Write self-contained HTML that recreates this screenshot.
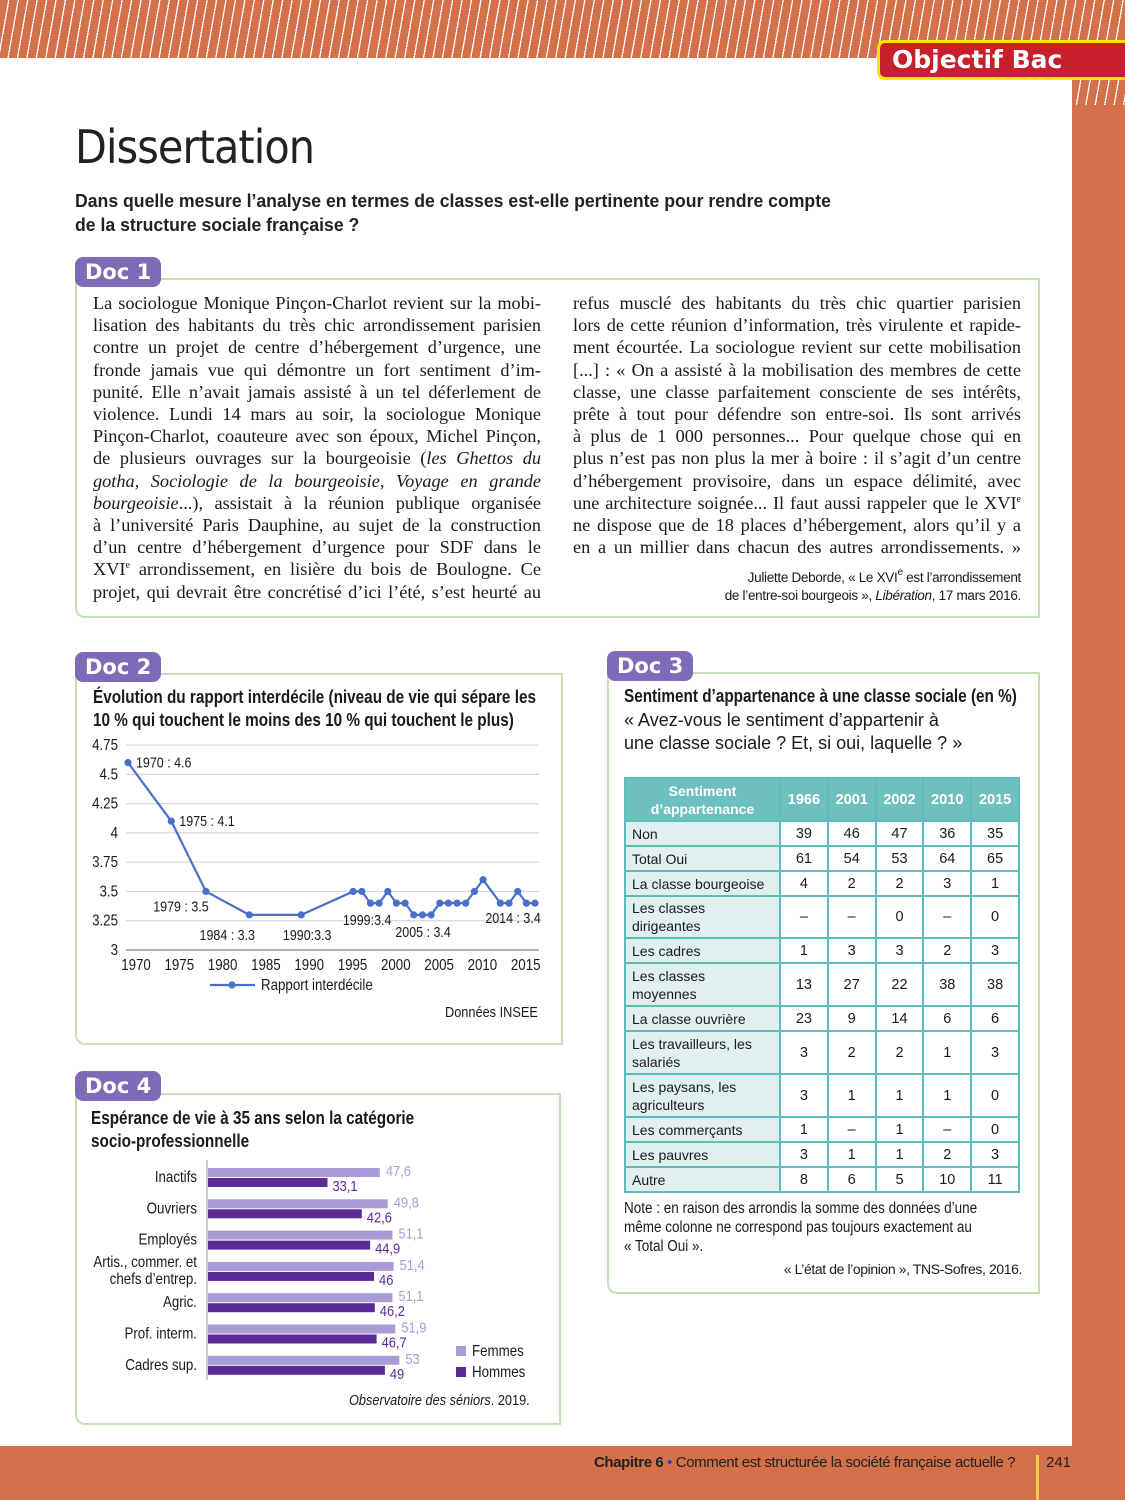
<!DOCTYPE html>
<html><head><meta charset="utf-8">
<style>
*{margin:0;padding:0;box-sizing:border-box}
body{width:1125px;height:1500px;position:relative;background:#fff;overflow:hidden;font-family:"Liberation Sans",sans-serif;color:#1a1a1a}
.abs{position:absolute}
.stripes{background:repeating-linear-gradient(100deg,#d4704a 0 8px,#fff 8px 9.3px)}
.box{position:absolute;border:2px solid #c4dfb5;border-radius:0 0 0 10px}
.badge{position:absolute;background:#7d6bb8;color:#fff;font-family:"DejaVu Sans",sans-serif;font-weight:bold;font-size:21px;border-radius:8px;padding:0 10px;height:30px;line-height:30px}
.ln{position:absolute;font-family:"Liberation Serif",serif;font-size:18.3px;white-space:nowrap;text-align:justify;text-align-last:justify;height:22px;line-height:22px}
sup{font-size:10px;line-height:0;vertical-align:7px}
.nar{transform:scaleX(0.85);transform-origin:left top;white-space:nowrap}
table{border-collapse:collapse;position:absolute;left:624px;top:777px;width:396px}
td{border:2px solid #5fbcba;font-size:14.5px;text-align:center;padding:0}
td.l{background:#e0f0ef;text-align:left;padding-left:6px;line-height:18px;font-size:14px}
th{background:#6ec0bf;color:#fff;border:2px solid #5fbcba;font-size:14.5px}
</style></head><body>
<div class="abs stripes" style="left:0;top:0;width:1125px;height:58px"></div>
<div class="abs" style="left:1072px;top:58px;width:53px;height:1400px;background:#d4704a"></div>
<div class="abs stripes" style="left:1072px;top:80px;width:53px;height:25px"></div>
<div class="abs" style="left:877px;top:40px;width:260px;height:40px;background:#c8202a;border:3px solid #f5e400;border-radius:8px 0 0 8px;color:#fff;font-family:'DejaVu Sans',sans-serif;font-weight:bold;font-size:25px;line-height:34px;padding-left:12px">Objectif Bac</div>
<div class="abs" style="left:75px;top:120px;font-size:46px;font-family:'DejaVu Sans',sans-serif;letter-spacing:-1px;color:#222;transform:scaleX(0.9);transform-origin:left">Dissertation</div>
<div class="abs" style="left:75px;top:189px;font-size:18px;font-weight:bold;line-height:24px;color:#222;transform:scaleX(0.98);transform-origin:left;white-space:nowrap">Dans quelle mesure l’analyse en termes de classes est-elle pertinente pour rendre compte<br>de la structure sociale française ?</div>

<!-- Doc 1 -->
<div class="box" style="left:75px;top:278px;width:965px;height:340px"></div>
<div class="badge" style="left:75px;top:257px">Doc 1</div>
<div>
<div class="ln" style="left:93px;top:292px;width:448px">La sociologue Monique Pinçon-Charlot revient sur la mobi-</div>
<div class="ln" style="left:93px;top:314px;width:448px">lisation des habitants du très chic arrondissement parisien</div>
<div class="ln" style="left:93px;top:336px;width:448px">contre un projet de centre d’hébergement d’urgence, une</div>
<div class="ln" style="left:93px;top:359px;width:448px">fronde jamais vue qui démontre un fort sentiment d’im-</div>
<div class="ln" style="left:93px;top:381px;width:448px">punité. Elle n’avait jamais assisté à un tel déferlement de</div>
<div class="ln" style="left:93px;top:403px;width:448px">violence. Lundi 14 mars au soir, la sociologue Monique</div>
<div class="ln" style="left:93px;top:425px;width:448px">Pinçon-Charlot, coauteure avec son époux, Michel Pinçon,</div>
<div class="ln" style="left:93px;top:447px;width:448px">de plusieurs ouvrages sur la bourgeoisie (<i>les Ghettos du</i></div>
<div class="ln" style="left:93px;top:470px;width:448px"><i>gotha, Sociologie de la bourgeoisie, Voyage en grande</i></div>
<div class="ln" style="left:93px;top:492px;width:448px"><i>bourgeoisie</i>...), assistait à la réunion publique organisée</div>
<div class="ln" style="left:93px;top:514px;width:448px">à l’université Paris Dauphine, au sujet de la construction</div>
<div class="ln" style="left:93px;top:536px;width:448px">d’un centre d’hébergement d’urgence pour SDF dans le</div>
<div class="ln" style="left:93px;top:558px;width:448px">XVI<sup>e</sup> arrondissement, en lisière du bois de Boulogne. Ce</div>
<div class="ln" style="left:93px;top:581px;width:448px">projet, qui devrait être concrétisé d’ici l’été, s’est heurté au</div>
<div class="ln" style="left:573px;top:292px;width:448px">refus musclé des habitants du très chic quartier parisien</div>
<div class="ln" style="left:573px;top:314px;width:448px">lors de cette réunion d’information, très virulente et rapide-</div>
<div class="ln" style="left:573px;top:336px;width:448px">ment écourtée. La sociologue revient sur cette mobilisation</div>
<div class="ln" style="left:573px;top:359px;width:448px">[...] : « On a assisté à la mobilisation des membres de cette</div>
<div class="ln" style="left:573px;top:381px;width:448px">classe, une classe parfaitement consciente de ses intérêts,</div>
<div class="ln" style="left:573px;top:403px;width:448px">prête à tout pour défendre son entre-soi. Ils sont arrivés</div>
<div class="ln" style="left:573px;top:425px;width:448px">à plus de 1 000 personnes... Pour quelque chose qui en</div>
<div class="ln" style="left:573px;top:447px;width:448px">plus n’est pas non plus la mer à boire : il s’agit d’un centre</div>
<div class="ln" style="left:573px;top:470px;width:448px">d’hébergement provisoire, dans un espace délimité, avec</div>
<div class="ln" style="left:573px;top:492px;width:448px">une architecture soignée... Il faut aussi rappeler que le XVI<sup>e</sup></div>
<div class="ln" style="left:573px;top:514px;width:448px">ne dispose que de 18 places d’hébergement, alors qu’il y a</div>
<div class="ln" style="left:573px;top:536px;width:448px">en a un millier dans chacun des autres arrondissements. »</div>
</div>
<div class="abs" style="left:600px;top:569px;width:421px;text-align:right;font-size:13.5px;line-height:18px;letter-spacing:-0.3px">Juliette Deborde, « Le XVI<sup>e</sup> est l’arrondissement<br>de l’entre-soi bourgeois », <i>Libération</i>, 17 mars 2016.</div>

<!-- Doc 2 -->
<div class="box" style="left:75px;top:673px;width:488px;height:372px"></div>
<div class="badge" style="left:75px;top:652px">Doc 2</div>
<div class="abs nar" style="left:93px;top:686px;font-size:18px;font-weight:bold;line-height:23px">Évolution du rapport interdécile (niveau de vie qui sépare les<br>10 % qui touchent le moins des 10 % qui touchent le plus)</div>
<svg class="abs" style="left:0;top:0" width="1125" height="1500" id="lc"></svg>
<div class="abs nar" style="left:445px;top:1004px;font-size:15px">Données INSEE</div>

<!-- Doc 4 -->
<div class="box" style="left:75px;top:1093px;width:486px;height:332px"></div>
<div class="badge" style="left:75px;top:1071px">Doc 4</div>
<div class="abs nar" style="left:91px;top:1107px;font-size:18px;font-weight:bold;line-height:23px">Espérance de vie à 35 ans selon la catégorie<br>socio-professionnelle</div>
<svg class="abs" style="left:0;top:0" width="1125" height="1500" id="bc"></svg>
<div class="abs nar" style="left:349px;top:1392px;font-size:15px"><i>Observatoire des séniors</i>. 2019.</div>

<!-- Doc 3 -->
<div class="box" style="left:607px;top:672px;width:433px;height:622px"></div>
<div class="badge" style="left:607px;top:651px">Doc 3</div>
<div class="abs nar" style="left:624px;top:686px;font-size:18px;font-weight:bold">Sentiment d’appartenance à une classe sociale (en %)</div>
<div class="abs" style="left:624px;top:709px;font-size:18px;line-height:23px">« Avez-vous le sentiment d’appartenir à<br>une classe sociale ? Et, si oui, laquelle ? »</div>
<table>
<tr style="height:43px"><th style="width:155px;line-height:18px;font-size:14px">Sentiment<br>d’appartenance</th><th>1966</th><th>2001</th><th>2002</th><th>2010</th><th>2015</th></tr>
<tr style="height:25px"><td class="l">Non</td><td>39</td><td>46</td><td>47</td><td>36</td><td>35</td></tr>
<tr style="height:25px"><td class="l">Total Oui</td><td>61</td><td>54</td><td>53</td><td>64</td><td>65</td></tr>
<tr style="height:25px"><td class="l">La classe bourgeoise</td><td>4</td><td>2</td><td>2</td><td>3</td><td>1</td></tr>
<tr style="height:42px"><td class="l">Les classes<br>dirigeantes</td><td>–</td><td>–</td><td>0</td><td>–</td><td>0</td></tr>
<tr style="height:25px"><td class="l">Les cadres</td><td>1</td><td>3</td><td>3</td><td>2</td><td>3</td></tr>
<tr style="height:43px"><td class="l">Les classes<br>moyennes</td><td>13</td><td>27</td><td>22</td><td>38</td><td>38</td></tr>
<tr style="height:25px"><td class="l">La classe ouvrière</td><td>23</td><td>9</td><td>14</td><td>6</td><td>6</td></tr>
<tr style="height:43px"><td class="l">Les travailleurs, les<br>salariés</td><td>3</td><td>2</td><td>2</td><td>1</td><td>3</td></tr>
<tr style="height:43px"><td class="l">Les paysans, les<br>agriculteurs</td><td>3</td><td>1</td><td>1</td><td>1</td><td>0</td></tr>
<tr style="height:25px"><td class="l">Les commerçants</td><td>1</td><td>–</td><td>1</td><td>–</td><td>0</td></tr>
<tr style="height:25px"><td class="l">Les pauvres</td><td>3</td><td>1</td><td>1</td><td>2</td><td>3</td></tr>
<tr style="height:25px"><td class="l">Autre</td><td>8</td><td>6</td><td>5</td><td>10</td><td>11</td></tr>
</table>
<div class="abs nar" style="left:624px;top:1199px;font-size:15.5px;line-height:19px;transform:scaleX(0.87)">Note : en raison des arrondis la somme des données d’une<br>même colonne ne correspond pas toujours exactement au<br>« Total Oui ».</div>
<div class="abs" style="left:700px;top:1261px;width:322px;text-align:right;font-size:14px;letter-spacing:-0.4px">« L’état de l’opinion », TNS-Sofres, 2016.</div>

<!-- footer -->
<div class="abs" style="left:0;top:1446px;width:1125px;height:54px;background:#d4704a"></div>
<div class="abs" style="left:594px;top:1454px;font-size:15px;color:#222;letter-spacing:-0.4px"><b>Chapitre 6</b> <span style="color:#3a3ad0">•</span> Comment est structurée la société française actuelle ?</div>
<div class="abs" style="left:1036px;top:1455px;width:3px;height:45px;background:#f2c94c"></div>
<div class="abs" style="left:1046px;top:1454px;font-size:15px;color:#222">241</div>

<script>
const years=[1970,1975,1979,1984,1990,1996,1997,1998,1999,2000,2001,2002,2003,2004,2005,2006,2007,2008,2009,2010,2011,2013,2014,2015,2016,2017];
const ratios=[4.6,4.1,3.5,3.3,3.3,3.5,3.5,3.4,3.4,3.5,3.4,3.4,3.3,3.3,3.3,3.4,3.4,3.4,3.4,3.5,3.6,3.4,3.4,3.5,3.4,3.4];
const yTicks=[3,3.25,3.5,3.75,4,4.25,4.5,4.75];
const xTicks=[1970,1975,1980,1985,1990,1995,2000,2005,2010,2015];
const pointLabelText=["1970 : 4.6","1975 : 4.1","1979 : 3.5","1984 : 3.3","1990:3.3","1999:3.4","2005 : 3.4","2014 : 3.4"];
const pointLabelIndex=[0,1,2,3,4,8,14,22];
const cats=["Inactifs","Ouvriers","Employés","Artis., commer. et|chefs d’entrep.","Agric.","Prof. interm.","Cadres sup."];
const femmes=[47.6,49.8,51.1,51.4,51.1,51.9,53];
const hommes=[33.1,42.6,44.9,46,46.2,46.7,49];
const NS="http://www.w3.org/2000/svg";
function mk(svg,tag,attrs,txt){const e=document.createElementNS(NS,tag);for(const k in attrs)e.setAttribute(k,attrs[k]);if(txt!==undefined)e.textContent=txt;svg.appendChild(e);return e;}
const FN='"Liberation Sans",sans-serif';
// narrow text helper: scale horizontally around anchor x
function nt(svg,x,y,anchor,size,txt,fill){
 const g=mk(svg,'g',{transform:'translate('+x+','+y+') scale(0.86,1)'});
 const t=mk(g,'text',{x:0,y:0,'text-anchor':anchor,'font-size':size,'font-family':FN,fill:fill||'#1a1a1a'},txt);
 return t;
}
// line chart
const lc=document.getElementById('lc');
const X=y=>128+(y-1970)*8.66, Y=v=>950-(v-3)*117.1;
yTicks.forEach(t=>{
 const g=mk(lc,'line',{x1:126,x2:539,y1:Y(t),y2:Y(t),stroke:t===3?'#999':'#d6d6d6','stroke-width':t===3?1.5:1.2});
 
 
 const tx=nt(lc,118,Y(t)+5,'end',15.5,String(t));
 
 
});
xTicks.forEach(t=>{
 const tx=nt(lc,X(t)+8,970,'middle',15.5,String(t));
 
 
});
const pl=mk(lc,'polyline',{points:years.map((y,i)=>X(y)+','+Y(ratios[i])).join(' '),fill:'none',stroke:'#4a6fc8','stroke-width':2.2});


years.forEach((y,i)=>{
 const c=mk(lc,'circle',{cx:X(y),cy:Y(ratios[i]),r:3.6,fill:'#4a6fc8'});
 
 
});
const lblDx=[8,8,-25,-22,6,-12,-8,4];
const lblDy=[5,5,20,25,25,22,22,20];
const lblAnchor=['start','start','middle','middle','middle','middle','middle','middle'];
pointLabelIndex.forEach((i,k)=>{
 const tx=nt(lc,X(years[i])+lblDx[k],Y(ratios[i])+lblDy[k],lblAnchor[k],14.5,pointLabelText[k]);
 
 
});
const lg=mk(lc,'line',{x1:210,x2:255,y1:985,y2:985,stroke:'#4a6fc8','stroke-width':2.2});


mk(lc,'circle',{cx:232,cy:985,r:3.6,fill:'#4a6fc8'});
const lt=nt(lc,261,990,'start',15.5,'Rapport interdécile');


// bar chart
const bc=document.getElementById('bc');
const BX=v=>208+v*3.61, G=i=>1168+i*31.3;
const ax=mk(bc,'line',{x1:207,x2:207,y1:1160,y2:1380,stroke:'#bbb','stroke-width':1.5});


cats.forEach((c,i)=>{
 const parts=c.split('|');
 parts.forEach((p,j)=>{
  const tx=nt(bc,197,G(i)+14+(parts.length>1?(j*17-9):0),'end',15.5,p);
  
  
 });
 const f=mk(bc,'rect',{x:208,y:G(i),width:BX(femmes[i])-208,height:9,fill:'#a99bd6'});
 
 
 const h=mk(bc,'rect',{x:208,y:G(i)+10,width:BX(hommes[i])-208,height:9,fill:'#5b2a97'});
 
 
 const ft=nt(bc,BX(femmes[i])+6,G(i)+8,'start',15,String(femmes[i]).replace('.',','),'#a99bd6');
 
 
 const ht=nt(bc,BX(hommes[i])+5,G(i)+23,'start',15,String(hommes[i]).replace('.',','),'#5b2a97');
 
 
});
[['Femmes','#a99bd6',1346],['Hommes','#5b2a97',1367]].forEach(([n,c,y])=>{
 const r=mk(bc,'rect',{x:456,y:y,width:10,height:10,fill:c});
 
 
 const t=nt(bc,472,y+10,'start',15.5,n);
 
 
});
</script>
</body></html>
